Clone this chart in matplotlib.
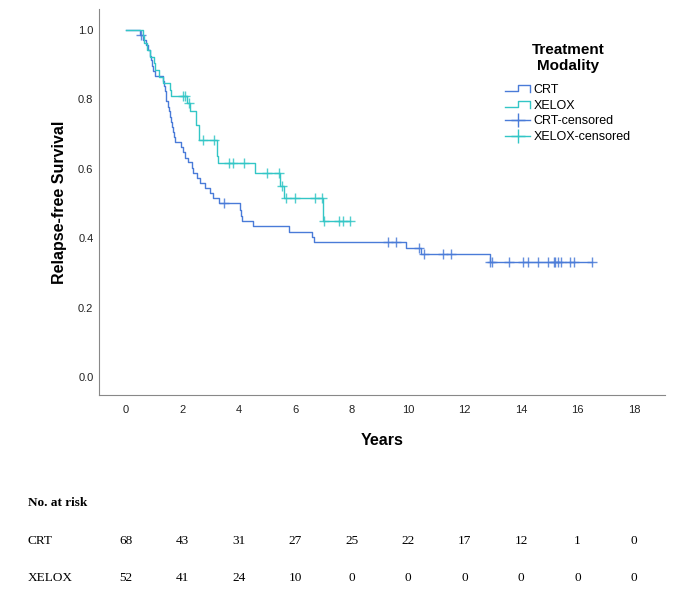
import numpy as np
import matplotlib
matplotlib.use("Agg")
import matplotlib.pyplot as plt
from matplotlib.lines import Line2D
from matplotlib.legend_handler import HandlerBase
import matplotlib.transforms as mtransforms

# ---- data -----------------------------------------------------------------
crt_times = [0.50, 0.62, 0.73, 0.79, 0.85, 0.88, 0.91, 0.97, 1.03, 1.33, 1.35,
             1.38, 1.41, 1.44, 1.50, 1.53, 1.56, 1.59, 1.62, 1.66, 1.70, 1.75,
             1.95, 2.03, 2.09, 2.21, 2.33, 2.39, 2.51, 2.63, 2.80, 2.98, 3.10,
             3.30, 4.03, 4.07, 4.12, 4.50, 5.79, 6.60, 6.65, 9.93, 10.45, 12.89]
crt_surv = [0.985, 0.971, 0.956, 0.941, 0.926, 0.912, 0.897, 0.882, 0.868,
            0.853, 0.838, 0.823, 0.809, 0.794, 0.779, 0.765, 0.750, 0.735,
            0.721, 0.706, 0.691, 0.676, 0.662, 0.647, 0.632, 0.618, 0.603,
            0.588, 0.574, 0.559, 0.544, 0.529, 0.515, 0.500, 0.482, 0.465,
            0.448, 0.434, 0.418, 0.403, 0.388, 0.372, 0.353, 0.332]
crt_cens = [0.55, 3.48, 9.29, 9.57, 10.38, 10.55, 11.23, 11.52, 12.90, 12.98,
            13.56, 14.07, 14.23, 14.61, 14.97, 15.15, 15.22, 15.31, 15.43,
            15.72, 15.89, 16.52]

xel_times = [0.60, 0.65, 0.75, 0.85, 1.00, 1.03, 1.17, 1.33, 1.55, 1.60, 2.18,
             2.28, 2.48, 2.58, 3.22, 3.27, 4.58, 5.47, 5.59, 6.98]
xel_surv = [0.981, 0.962, 0.942, 0.923, 0.904, 0.885, 0.865, 0.846, 0.827,
            0.808, 0.788, 0.767, 0.725, 0.684, 0.636, 0.617, 0.588, 0.550,
            0.515, 0.448]
xel_cens = [2.03, 2.10, 2.24, 2.74, 3.12, 3.67, 3.81, 4.20, 4.99, 5.41, 5.53,
            5.68, 6.00, 6.71, 6.94, 7.03, 7.54, 7.71, 7.93]

risk_times = [0, 2, 4, 6, 8, 10, 12, 14, 16, 18]
risk_crt = [68, 43, 31, 27, 25, 22, 17, 12, 1, 0]
risk_xel = [52, 41, 24, 10, 0, 0, 0, 0, 0, 0]

c_crt = "#4a7bd8"
c_xel = "#33c6c6"

plt.rcParams['font.family'] = ['Liberation Sans', 'DejaVu Sans']


class StepHandler(HandlerBase):
    def create_artists(self, legend, orig, xd, yd, w, h, fontsize, trans):
        x0, y0 = -xd, -yd
        xs = [x0, x0 + 0.5 * w, x0 + 0.5 * w, x0 + w, x0 + w]
        ys = [y0 + 0.2 * h, y0 + 0.2 * h, y0 + 0.85 * h, y0 + 0.85 * h, y0 + 0.1 * h]
        ln = Line2D(xs, ys, color=orig.get_color(), lw=orig.get_linewidth())
        ln.set_transform(trans)
        return [ln]


def surv_at(t, times, surv):
    idx = np.searchsorted(times, t, side='right') - 1
    s = np.array([1.0] + list(surv))
    return s[idx + 1]


fig = plt.figure(figsize=(6.75, 6.01), dpi=100)
ax = fig.add_axes([0.1467, 0.3428, 0.8385, 0.6422])

# curves
for times, surv, cens, col in [(crt_times, crt_surv, crt_cens, c_crt),
                               (xel_times, xel_surv, xel_cens, c_xel)]:
    end = max(cens[-1], times[-1])
    xs = [0] + times + [end]
    ys = [1.0] + surv + [surv[-1]]
    ax.step(xs, ys, where='post', color=col, lw=1.0)
    ax.plot(cens, surv_at(np.array(cens), times, surv), '+', color=col,
            ms=6.5, mew=1.0, alpha=0.85)

ax.set_xlim(-0.95, 19.1)
ax.set_ylim(-0.052, 1.06)
ax.set_xticks(range(0, 19, 2))
ax.set_yticks(np.arange(0, 1.01, 0.2))
ax.set_yticklabels(["%.1f" % v for v in np.arange(0, 1.01, 0.2)])
ax.tick_params(length=0, labelsize=8, colors="#222222")
ax.tick_params(axis='x', pad=7)
ax.tick_params(axis='y', pad=4)
for s in ['top', 'right']:
    ax.spines[s].set_visible(False)
for s in ['left', 'bottom']:
    ax.spines[s].set_color("#888888")
ax.set_xlabel("Years", fontsize=11.5, fontweight='bold', labelpad=13)
ax.set_ylabel("Relapse-free Survival", fontsize=11.5, fontweight='bold', labelpad=8)

# legend
h_crt = Line2D([], [], color=c_crt, lw=1.0)
h_xel = Line2D([], [], color=c_xel, lw=1.0)
h_crt_c = Line2D([], [], color=c_crt, lw=1.0, marker='+', ms=10, mew=1.0)
h_xel_c = Line2D([], [], color=c_xel, lw=1.0, marker='+', ms=10, mew=1.0)
leg = ax.legend([h_crt, h_xel, h_crt_c, h_xel_c],
                ["CRT", "XELOX", "CRT-censored", "XELOX-censored"],
                handler_map={h_crt: StepHandler(), h_xel: StepHandler()},
                title="Treatment\nModality", loc='upper left',
                bbox_to_anchor=(500 / 675, 1 - 38 / 601),
                bbox_transform=fig.transFigure, frameon=False, fontsize=9,
                handlelength=2.0, handletextpad=0.3, labelspacing=0.3,
                borderaxespad=0)
leg.get_title().set_fontweight('bold')
leg.get_title().set_fontsize(11)
leg.get_title().set_multialignment('center')
leg.get_title().set_linespacing(1.15)
leg._legend_box.align = "center"
leg._legend_box.sep = 8

# number at risk table
serif = ['Liberation Serif', 'DejaVu Serif']
trans = mtransforms.blended_transform_factory(ax.transData, fig.transFigure)
fig.text(28 / 675, 1 - 503 / 601, "No. at risk", family=serif, fontsize=9.5,
         fontweight='bold', va='center', ha='left')
fig.text(28 / 675, 1 - 541 / 601, "CRT", family=serif, fontsize=9.5,
         va='center', ha='left')
fig.text(28 / 675, 1 - 578 / 601, "XELOX", family=serif, fontsize=9.5,
         va='center', ha='left')
for t, a, b in zip(risk_times, risk_crt, risk_xel):
    ax.text(t, 1 - 541 / 601, str(a), transform=trans, family=serif,
            fontsize=9.5, ha='center', va='center')
    ax.text(t, 1 - 578 / 601, str(b), transform=trans, family=serif,
            fontsize=9.5, ha='center', va='center')

fig.savefig("out.png", dpi=100)
